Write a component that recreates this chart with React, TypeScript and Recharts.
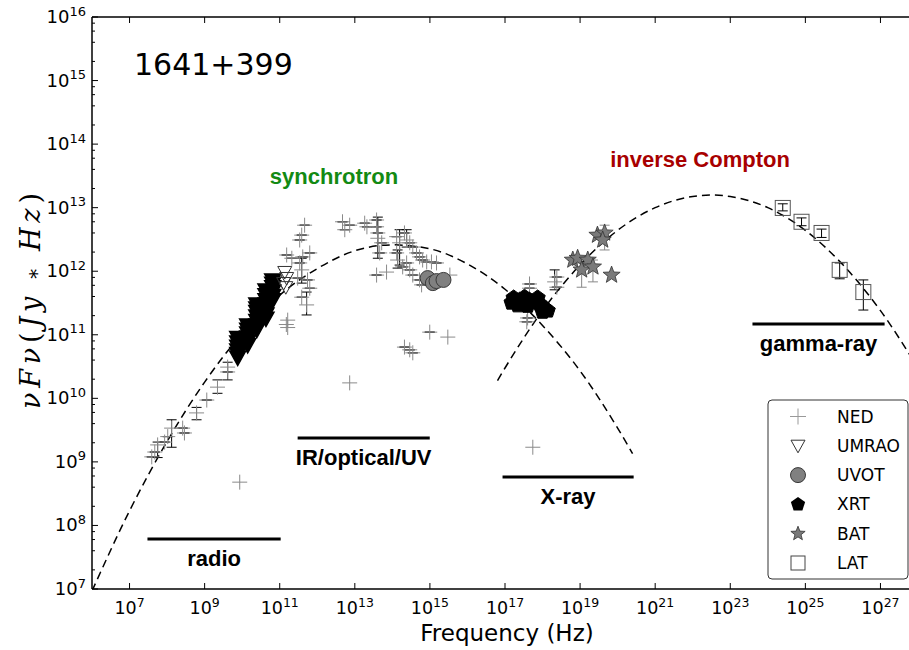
import React from 'react';
import { ComposedChart, XAxis, YAxis, Scatter, Line, ErrorBar, ReferenceLine } from 'recharts';

// plot frame (px) - the right edge of the frame falls just outside the 909px page
const CHART_W = 960;
const CHART_H = 650;
const PLOT_LEFT = 92;
const PLOT_TOP = 17;
const PLOT_BOTTOM = 589;

const X_DOMAIN = [1e6, 1e28];
const Y_DOMAIN = [1e7, 1e16];
const X_TICKS = [1e7, 1e9, 1e11, 1e13, 1e15, 1e17, 1e19, 1e21, 1e23, 1e25, 1e27];
const Y_DECADES = [1e7, 1e8, 1e9, 1e10, 1e11, 1e12, 1e13, 1e14, 1e15, 1e16];
const Y_MINOR_STEPS = [2, 4, 6, 8];
const Y_TICKS = Y_DECADES.flatMap((d) => (d === 1e16 ? [d] : [d, ...Y_MINOR_STEPS.map((m) => m * d)]));

type Pt = { f: number; v: number; lo?: number; hi?: number };

// dashed model curves
const SYNC_CURVE: Pt[] = [
  { f: 1e6, v: 9.3e6 }, { f: 1e7, v: 1.7e8 }, { f: 1e8, v: 2.1e9 }, { f: 1e9, v: 1.8e10 },
  { f: 1e10, v: 1.05e11 }, { f: 1e11, v: 4.2e11 }, { f: 1e12, v: 1.1e12 }, { f: 1e13, v: 2.1e12 },
  { f: 1e14, v: 2.6e12 }, { f: 1e15, v: 2.25e12 }, { f: 1e16, v: 1.3e12 }, { f: 1e17, v: 5.2e11 },
  { f: 1e18, v: 1.4e11 }, { f: 1e19, v: 2.7e10 }, { f: 1e20, v: 3.4e9 }, { f: 2.5e20, v: 1.35e9 },
];
const IC_CURVE: Pt[] = [
  { f: 6.3e16, v: 1.9e10 }, { f: 1e17, v: 3.0e10 }, { f: 1e18, v: 2.4e11 }, { f: 1e19, v: 1.26e12 },
  { f: 1e20, v: 4.4e12 }, { f: 1e21, v: 1.0e13 }, { f: 1e22, v: 1.5e13 }, { f: 3.2e22, v: 1.58e13 },
  { f: 1e23, v: 1.5e13 }, { f: 1e24, v: 1.0e13 }, { f: 1e25, v: 4.4e12 }, { f: 1e26, v: 1.26e12 },
  { f: 1e27, v: 2.4e11 }, { f: 1e28, v: 3.0e10 },
];

// NED archival points with (mostly tiny) error bars
const NED: Pt[] = [
  { f: 4.7e7, v: 1.43e9 }, { f: 5.6e7, v: 1.85e9, lo: 1.17e9, hi: 2.05e9 }, { f: 3.9e7, v: 1.2e9 },
  { f: 1.04e8, v: 2.5e9 }, { f: 1.32e8, v: 3.4e9, lo: 1.7e9, hi: 4.6e9 }, { f: 8.6e7, v: 2.05e9 },
  { f: 2.6e8, v: 3.4e9 }, { f: 2.9e8, v: 2.85e9 }, { f: 6.1e8, v: 5.9e9, lo: 4.6e9, hi: 7.2e9 },
  { f: 1.14e9, v: 9.4e9 }, { f: 2.2e9, v: 1.5e10, lo: 1.2e10, hi: 1.95e10 }, { f: 4.1e9, v: 2.6e10 },
  { f: 4.1e9, v: 3.1e10, lo: 1.95e10, hi: 3.7e10 },
  { f: 4.6e11, v: 5.3e12 }, { f: 3.85e11, v: 3.7e12 }, { f: 3.4e11, v: 3.1e12 }, { f: 1.53e11, v: 1.8e12 },
  { f: 2.1e11, v: 1.6e12 }, { f: 4.1e11, v: 1.68e12 }, { f: 6.3e11, v: 1.94e12 }, { f: 3.4e11, v: 1.35e12 },
  { f: 3.85e11, v: 1.05e12, lo: 6.5e11, hi: 1.6e12 }, { f: 3.0e11, v: 7.8e11 }, { f: 5.5e11, v: 7.3e11 },
  { f: 6.3e11, v: 5.4e11 }, { f: 3.85e11, v: 3.9e11 }, { f: 5.2e11, v: 2.95e11, lo: 2.05e11, hi: 4.7e11 },
  { f: 4.7e12, v: 6.0e12 }, { f: 7.3e12, v: 5.3e12 }, { f: 5.4e12, v: 4.5e12 }, { f: 1.83e13, v: 5.7e12 },
  { f: 2.1e13, v: 5.0e12 }, { f: 3.8e13, v: 6.4e12 }, { f: 3.8e13, v: 5.0e12 }, { f: 4.1e13, v: 4.0e12 },
  { f: 4.1e13, v: 3.3e12, lo: 1.6e12, hi: 7.1e12 }, { f: 5.2e13, v: 2.8e12 }, { f: 4.6e13, v: 1.94e12 },
  { f: 1.3e14, v: 3.5e12 }, { f: 2.1e14, v: 4.0e12 }, { f: 2.4e14, v: 3.1e12, lo: 2.4e12, hi: 4.5e12 },
  { f: 1.56e14, v: 2.8e12, lo: 1.25e12, hi: 4.5e12 }, { f: 2.9e14, v: 2.8e12 }, { f: 3.5e14, v: 2.4e12 },
  { f: 1.3e14, v: 1.94e12 }, { f: 1.38e14, v: 1.5e12, lo: 1.12e12, hi: 2.16e12 }, { f: 2.4e14, v: 1.35e12 },
  { f: 1.88e14, v: 1.17e12 }, { f: 2.9e14, v: 1.05e12 }, { f: 3.5e14, v: 8.7e11 }, { f: 4.4e14, v: 1.94e12 },
  { f: 5.3e14, v: 1.68e12 }, { f: 6.4e14, v: 1.5e12 }, { f: 8.2e14, v: 1.4e12 }, { f: 1.1e15, v: 1.4e12 },
  { f: 1.5e15, v: 1.35e12 }, { f: 5.3e14, v: 7.3e11 }, { f: 6.0e14, v: 6.1e11 }, { f: 3.8e13, v: 8.7e11 },
  { f: 9.9e14, v: 1.1e11 }, { f: 2.1e14, v: 6.4e10 }, { f: 2.9e14, v: 5.8e10 }, { f: 3.5e14, v: 5.2e10 },
  { f: 4.5e17, v: 6.3e11 }, { f: 4.5e17, v: 5.4e11 }, { f: 2.4e18, v: 8.1e11 },
  { f: 2.1e18, v: 6.8e11, lo: 5.1e11, hi: 1.05e12 }, { f: 2.4e18, v: 5.6e11 }, { f: 4.0e17, v: 1.84e11 },
  { f: 3.8e17, v: 1.6e11 },
];
const NED_PLAIN: Pt[] = [
  { f: 8.6e9, v: 4.8e8 }, { f: 1.63e11, v: 1.7e11 }, { f: 1.5e11, v: 1.45e11 }, { f: 1.63e11, v: 1.3e11 },
  { f: 7.0e13, v: 9.7e11 }, { f: 3.0e15, v: 9.2e10 }, { f: 7.3e12, v: 1.75e10 }, { f: 5.5e17, v: 1.7e9 },
  { f: 3.4e15, v: 8.7e11 },
];

// UMRAO: dense overlapping monitoring points plus a few separate ones
const UMRAO_DENSE: Pt[] = [
  { f: 7.6e9, v: 4.4e10 }, { f: 7.6e9, v: 5.0e10 }, { f: 7.6e9, v: 5.7e10 }, { f: 7.6e9, v: 6.5e10 },
  { f: 7.6e9, v: 7.6e10 }, { f: 7.6e9, v: 8.9e10 },
  { f: 1.4e10, v: 6.9e10 }, { f: 1.4e10, v: 7.9e10 }, { f: 1.4e10, v: 9.1e10 }, { f: 1.4e10, v: 1.05e11 },
  { f: 1.4e10, v: 1.2e11 }, { f: 1.4e10, v: 1.4e11 },
  { f: 2.45e10, v: 1.2e11 }, { f: 2.45e10, v: 1.4e11 }, { f: 2.45e10, v: 1.65e11 }, { f: 2.45e10, v: 1.95e11 },
  { f: 2.45e10, v: 2.3e11 }, { f: 2.45e10, v: 2.6e11 }, { f: 2.45e10, v: 3.0e11 },
  { f: 4.3e10, v: 1.8e11 }, { f: 4.3e10, v: 2.1e11 }, { f: 4.3e10, v: 2.5e11 }, { f: 4.3e10, v: 3.0e11 },
  { f: 4.3e10, v: 3.5e11 }, { f: 4.3e10, v: 4.2e11 }, { f: 4.3e10, v: 5.0e11 },
  { f: 6.5e10, v: 3.5e11 }, { f: 6.5e10, v: 4.1e11 }, { f: 6.5e10, v: 4.8e11 }, { f: 6.5e10, v: 5.6e11 },
  { f: 6.5e10, v: 6.4e11 }, { f: 6.5e10, v: 7.2e11 },
];
const UMRAO: Pt[] = [
  { f: 1.36e11, v: 9.7e11 }, { f: 1.53e11, v: 7.8e11 }, { f: 1.27e11, v: 6.5e11 }, { f: 1.45e11, v: 5.6e11 },
];
const UVOT: Pt[] = [
  { f: 8.7e14, v: 7.8e11 }, { f: 1.2e15, v: 6.5e11 }, { f: 1.5e15, v: 7.0e11 }, { f: 2.3e15, v: 7.3e11 },
];
const XRT: Pt[] = [
  { f: 1.7e17, v: 3.8e11 }, { f: 2.45e17, v: 3.5e11 }, { f: 3.3e17, v: 3.9e11 }, { f: 4.5e17, v: 3.5e11 },
  { f: 6.2e17, v: 3.3e11 }, { f: 8.4e17, v: 3.05e11 }, { f: 1.14e18, v: 2.6e11 }, { f: 1.37e18, v: 2.4e11 },
  { f: 2.2e17, v: 2.9e11 }, { f: 4.0e17, v: 2.85e11 }, { f: 7.4e17, v: 3.8e11 }, { f: 1.5e17, v: 3.2e11 },
  { f: 1.0e18, v: 2.3e11 },
];
const BAT: Pt[] = [
  { f: 2.9e19, v: 3.7e12 }, { f: 4.5e19, v: 4.0e12, lo: 2.16e12, hi: 5.3e12 }, { f: 4.0e19, v: 3.1e12 },
  { f: 6.4e18, v: 1.5e12 }, { f: 8.6e18, v: 1.6e12 }, { f: 1.6e19, v: 1.5e12 },
  { f: 1.1e19, v: 1.05e12, lo: 5.6e11, hi: 1.35e12 }, { f: 2.2e19, v: 1.17e12, lo: 6.8e11, hi: 1.5e12 },
  { f: 6.9e19, v: 8.7e11 },
];
const LAT: Pt[] = [
  { f: 2.5e24, v: 9.9e12, lo: 8.9e12, hi: 1.15e13 }, { f: 7.9e24, v: 6.0e12, lo: 5.2e12, hi: 6.9e12 },
  { f: 2.7e25, v: 4.0e12, lo: 3.4e12, hi: 4.6e12 }, { f: 8.2e25, v: 1.05e12, lo: 7.6e11, hi: 1.35e12 },
  { f: 3.5e26, v: 4.7e11, lo: 2.45e11, hi: 7.3e11 },
];

// waveband bars under the SED
const BANDS = [
  { name: 'radio', from: 3.0e7, to: 1.06e11, level: 6.1e7 },
  { name: 'IR/optical/UV', from: 3.0e11, to: 9.9e14, level: 2.38e9 },
  { name: 'X-ray', from: 8.6e16, to: 2.67e20, level: 5.8e8 },
  { name: 'gamma-ray', from: 3.9e23, to: 1.29e27, level: 1.48e11 },
];

const LEGEND_ITEMS = ['NED', 'UMRAO', 'UVOT', 'XRT', 'BAT', 'LAT'];

const errRange = (d: Pt) => (d.lo != null && d.hi != null ? [d.v - d.lo, d.hi - d.v] : [0, 0]);

// marker shapes
const plusPath = (cx: number, cy: number, r: number) => `M${cx - r},${cy}H${cx + r}M${cx},${cy - r}V${cy + r}`;
const triPath = (cx: number, cy: number, r: number) =>
  `M${cx - r},${cy - r * 0.8}L${cx + r},${cy - r * 0.8}L${cx},${cy + r}Z`;
const polyPath = (cx: number, cy: number, n: number, rOuter: number, rInner?: number) => {
  const pts: string[] = [];
  const count = rInner ? n * 2 : n;
  for (let k = 0; k < count; k++) {
    const r = rInner && k % 2 === 1 ? rInner : rOuter;
    const a = ((-90 + (360 / count) * k) * Math.PI) / 180;
    pts.push(`${(cx + r * Math.cos(a)).toFixed(2)},${(cy + r * Math.sin(a)).toFixed(2)}`);
  }
  return `M${pts.join('L')}Z`;
};

const NedMark = ({ cx = 0, cy = 0 }: any) => <path d={plusPath(cx, cy, 7.5)} stroke="#8a8a8a" strokeWidth={1} fill="none" />;
const Nothing = () => <g />;
const UmraoDense = ({ cx = 0, cy = 0 }: any) => <path d={triPath(cx, cy, 8)} fill="#000" stroke="#000" strokeWidth={1.5} />;
const UmraoMark = ({ cx = 0, cy = 0 }: any) => <path d={triPath(cx, cy, 7)} fill="none" stroke="#333" strokeWidth={1} />;
const UvotMark = ({ cx = 0, cy = 0 }: any) => <circle cx={cx} cy={cy} r={7.5} fill="#808080" stroke="#3a3a3a" strokeWidth={1} />;
const XrtMark = ({ cx = 0, cy = 0 }: any) => <path d={polyPath(cx, cy, 5, 8)} fill="#000" stroke="#000" strokeWidth={1} />;
const BatMark = ({ cx = 0, cy = 0 }: any) => <path d={polyPath(cx, cy, 5, 9, 3.8)} fill="#7a7a7a" stroke="#333" strokeWidth={0.8} />;
const LatMark = ({ cx = 0, cy = 0 }: any) => <rect x={cx - 7.5} y={cy - 7.5} width={15} height={15} fill="none" stroke="#555" strokeWidth={1} />;

const LEGEND_MARKS: Record<string, (cx: number, cy: number) => React.ReactNode> = {
  NED: (cx, cy) => <path d={plusPath(cx, cy, 8)} stroke="#999" strokeWidth={1} fill="none" />,
  UMRAO: (cx, cy) => <path d={triPath(cx, cy, 7)} fill="none" stroke="#333" strokeWidth={1} />,
  UVOT: (cx, cy) => <circle cx={cx} cy={cy} r={7.5} fill="#808080" stroke="#3a3a3a" />,
  XRT: (cx, cy) => <path d={polyPath(cx, cy, 5, 7.5)} fill="#000" />,
  BAT: (cx, cy) => <path d={polyPath(cx, cy, 5, 7.5, 3.2)} fill="#7a7a7a" stroke="#333" strokeWidth={0.8} />,
  LAT: (cx, cy) => <rect x={cx - 7} y={cy - 7} width={14} height={14} fill="none" stroke="#444" />,
};

const XTick = ({ x, payload }: any) => {
  const exp = Math.round(Math.log10(payload.value));
  return (
    <g>
      <line x1={x} y1={PLOT_BOTTOM} x2={x} y2={PLOT_BOTTOM - 6} stroke="#000" strokeWidth={1} />
      <line x1={x} y1={PLOT_TOP} x2={x} y2={PLOT_TOP + 6} stroke="#000" strokeWidth={1} />
      <text x={x} y={PLOT_BOTTOM + 25} textAnchor="middle" fontFamily="DejaVu Sans" fontSize={17.5} fill="#000">
        10<tspan fontSize={12.5} dy={-7.5}>{exp}</tspan>
      </text>
    </g>
  );
};

const YTick = ({ y, payload }: any) => {
  const e = Math.log10(payload.value);
  const major = Math.abs(e - Math.round(e)) < 1e-6;
  return (
    <g>
      <line x1={PLOT_LEFT} y1={y} x2={PLOT_LEFT + (major ? 6 : 3)} y2={y} stroke="#000" strokeWidth={1} />
      {major && (
        <text x={86} y={y + 6} textAnchor="end" fontFamily="DejaVu Sans" fontSize={18} fill="#000">
          10<tspan fontSize={13} dy={-7.5}>{Math.round(e)}</tspan>
        </text>
      )}
    </g>
  );
};

const BandLabel = ({ viewBox, text }: any) => {
  if (!viewBox) return null;
  return (
    <text
      x={viewBox.x + viewBox.width / 2}
      y={viewBox.y + 27}
      textAnchor="middle"
      fontFamily="Liberation Sans"
      fontWeight="bold"
      fontSize={22}
      fill="#000"
    >
      {text}
    </text>
  );
};

export default function App() {
  return (
    <div style={{ position: 'fixed', left: 0, top: 0, width: 909, height: 650, overflow: 'hidden', background: '#fff' }}>
      <ComposedChart width={CHART_W} height={CHART_H} margin={{ top: PLOT_TOP, right: 42, bottom: 21, left: 0 }}>
        <XAxis
          type="number"
          dataKey="f"
          scale="log"
          domain={X_DOMAIN}
          allowDataOverflow
          ticks={X_TICKS}
          interval={0}
          height={40}
          tickLine={false}
          tickSize={0}
          tickMargin={0}
          tick={<XTick />}
          axisLine={{ stroke: '#000', strokeWidth: 1.5 }}
        />
        <YAxis
          type="number"
          dataKey="v"
          scale="log"
          domain={Y_DOMAIN}
          allowDataOverflow
          ticks={Y_TICKS}
          interval={0}
          width={92}
          tickLine={false}
          tickSize={0}
          tickMargin={0}
          tick={<YTick />}
          axisLine={{ stroke: '#000', strokeWidth: 1.5 }}
        />
        <ReferenceLine y={1e16} stroke="#000" strokeWidth={1.5} />

        {BANDS.map((b) => (
          <ReferenceLine
            key={b.name}
            segment={[{ x: b.from, y: b.level }, { x: b.to, y: b.level }]}
            stroke="#000"
            strokeWidth={3}
            label={<BandLabel text={b.name} />}
          />
        ))}

        <Line data={SYNC_CURVE} dataKey="v" type="monotone" stroke="#000" strokeWidth={1.5} strokeDasharray="8 5" dot={false} isAnimationActive={false} />
        <Line data={IC_CURVE} dataKey="v" type="monotone" stroke="#000" strokeWidth={1.5} strokeDasharray="8 5" dot={false} isAnimationActive={false} />

        <Scatter name="NED" data={NED} shape={NedMark} isAnimationActive={false} />
        <Scatter data={NED_PLAIN} shape={NedMark} isAnimationActive={false} />
        <Scatter data={NED} shape={Nothing} isAnimationActive={false}>
          <ErrorBar dataKey={errRange} direction="y" width={5} stroke="#000" strokeWidth={1} />
        </Scatter>

        <Scatter data={UMRAO_DENSE} shape={UmraoDense} isAnimationActive={false} />
        <Scatter name="UMRAO" data={UMRAO} shape={UmraoMark} isAnimationActive={false} />
        <Scatter name="UVOT" data={UVOT} shape={UvotMark} isAnimationActive={false} />
        <Scatter name="XRT" data={XRT} shape={XrtMark} isAnimationActive={false} />
        <Scatter name="BAT" data={BAT} shape={BatMark} isAnimationActive={false}>
          <ErrorBar dataKey={errRange} direction="y" width={5} stroke="#888" strokeWidth={1} />
        </Scatter>
        <Scatter name="LAT" data={LAT} shape={LatMark} isAnimationActive={false}>
          <ErrorBar dataKey={errRange} direction="y" width={5} stroke="#000" strokeWidth={1} />
        </Scatter>
      </ComposedChart>

      <svg width={909} height={650} style={{ position: 'absolute', left: 0, top: 0, pointerEvents: 'none' }}>
        <text x={134} y={75} fontFamily="DejaVu Sans" fontSize={30} fill="#000">1641+399</text>
        <text x={334} y={184} textAnchor="middle" fontFamily="Liberation Sans" fontWeight="bold" fontSize={22} fill="#138a13">
          synchrotron
        </text>
        <text x={700} y={167} textAnchor="middle" fontFamily="Liberation Sans" fontWeight="bold" fontSize={22} fill="#a80000">
          inverse Compton
        </text>
        <text x={507} y={641} textAnchor="middle" fontFamily="DejaVu Sans" fontSize={23} fill="#000">
          Frequency (Hz)
        </text>
        <text
          transform="translate(40,301) rotate(-90)"
          textAnchor="middle"
          fontFamily="DejaVu Serif"
          fontStyle="italic"
          fontSize={27}
          textLength={216}
          lengthAdjust="spacing"
          fill="#000"
        >
          νFν<tspan fontStyle="normal">(</tspan>Jy<tspan fontStyle="normal" fontSize={20}> ∗ </tspan>Hz<tspan fontStyle="normal">)</tspan>
        </text>

        <rect x={768} y={400} width={140} height={179} rx={4} fill="#fff" stroke="#333" strokeWidth={1} />
        {LEGEND_ITEMS.map((name, i) => {
          const cy = 416.5 + i * 29.3;
          return (
            <g key={name}>
              {LEGEND_MARKS[name](798, cy)}
              <text x={837} y={cy + 6} fontFamily="DejaVu Sans" fontSize={17} fill="#000">{name}</text>
            </g>
          );
        })}
      </svg>
    </div>
  );
}
